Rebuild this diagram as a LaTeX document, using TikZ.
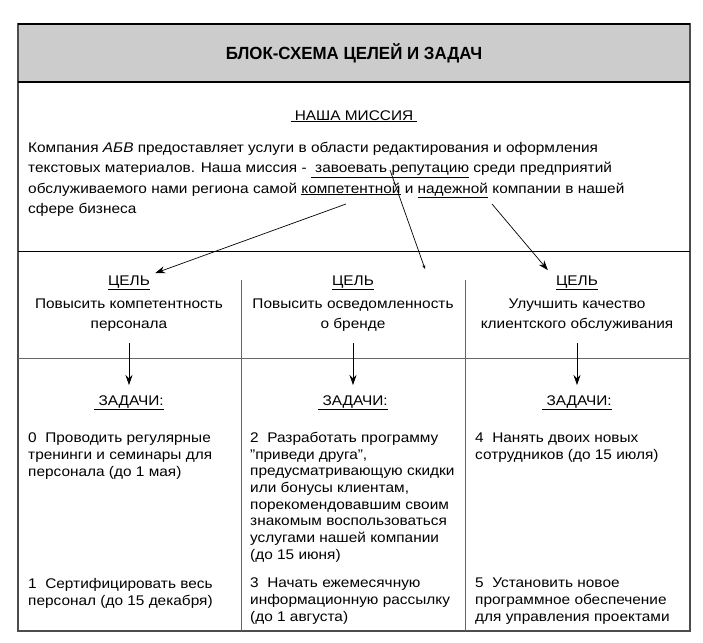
\documentclass[tikz,border=0pt]{standalone}
\usepackage{fontspec}
\setmainfont{Liberation Sans}[FakeStretch=1.1]
\newfontfamily\headfont{Liberation Sans}[FakeStretch=0.96]
\usetikzlibrary{arrows.meta}
\newcommand\txtsz{\fontsize{14}{16.7}\selectfont}
\newcommand\missz{\fontsize{14}{20.3}\selectfont}
\newcommand\goalsz{\fontsize{14}{19.5}\selectfont}
\newcommand\ttlsz{\headfont\bfseries\fontsize{17.6}{18}\selectfont}

\begin{document}
\begin{tikzpicture}[x=1pt,y=-1pt,
  frame/.style={draw=black!70,line width=1.3pt},
  rule/.style={draw=black!60,line width=0.9pt},
  lbl/.style={inner sep=0pt,font=\txtsz},
  blk/.style={inner sep=0pt,font=\txtsz,align=left,anchor=north west},
  arr/.style={-{Stealth[length=10pt,width=7pt]},line width=0.7pt}]

\useasboundingbox (0,0) rectangle (703,642);
% frame and header
\fill[black!20] (18,24) rectangle (690,82);
\draw[frame] (18,24) rectangle (690,631);
\draw[line width=1.3pt] (18,24) -- (690,24);
\draw[line width=1.3pt] (18,82) -- (690,82);
\draw[line width=1pt] (18,251) -- (690,251);
\draw[rule] (18,358) -- (690,358);
\draw[rule] (241,280) -- (241,631);
\draw[rule] (465,280) -- (465,631);

\node[inner sep=0pt] (title) at (354,53) {\ttlsz БЛОК-СХЕМА ЦЕЛЕЙ И ЗАДАЧ};

% mission
\node[lbl,anchor=base] (mhead) at (354,120) {\underline{ НАША МИССИЯ }};
\node[blk,font=\missz] (mission) at (28,142) {Компания \textit{АБВ} предоставляет услуги в области редактирования и оформления\\
текстовых материалов. Наша миссия - \underline{ завоевать репутацию} среди предприятий\\
обслуживаемого нами региона самой \underline{компетентной} и \underline{надежной} компании в нашей\\
сфере бизнеса};
\coordinate (compet) at (346,204);
\coordinate (reput) at (390,170);
\coordinate (nadezh) at (492,204);
\coordinate (free) at (425,269);

% goals
\node[lbl,anchor=base] (cel1) at (129,285) {\underline{ЦЕЛЬ}};
\node[lbl,anchor=base] (cel2) at (353,285) {\underline{ЦЕЛЬ}};
\node[lbl,anchor=base] (cel3) at (577,285) {\underline{ЦЕЛЬ}};
\node[lbl,font=\goalsz,align=center,anchor=north] (g1) at (129,299) {Повысить компетентность\\персонала};
\node[lbl,font=\goalsz,align=center,anchor=north] (g2) at (353,299) {Повысить осведомленность\\о бренде};
\node[lbl,font=\goalsz,align=center,anchor=north] (g3) at (577,299) {Улучшить качество\\клиентского обслуживания};

\draw[arr] (compet) -- ([shift={(5,-2)}]cel1.north east);
\draw[-{Stealth[length=4pt,width=3pt]},line width=0.7pt] (reput) -- (free);
\draw[arr] (nadezh) -- ([shift={(-8,-5)}]cel3.north west);

% tasks
\node[lbl,anchor=base] (z1) at (129,405) {\underline{ ЗАДАЧИ:}};
\node[lbl,anchor=base] (z2) at (353,405) {\underline{ ЗАДАЧИ:}};
\node[lbl,anchor=base] (z3) at (577,405) {\underline{ ЗАДАЧИ:}};
\draw[arr,shorten <=12pt,shorten >=10pt] (g1.south) -- (z1.north);
\draw[arr,shorten <=12pt,shorten >=10pt] (g2.south) -- (z2.north);
\draw[arr,shorten <=12pt,shorten >=10pt] (g3.south) -- (z3.north);

\node[blk] (t0) at (28,433) {0\ \ Проводить регулярные\\тренинги и семинары для\\персонала (до 1 мая)};
\node[blk] (t1) at (28,578) {1\ \ Сертифицировать весь\\персонал (до 15 декабря)};
\node[blk] (t2) at (250,432) {2\ \ Разработать программу\\"приведи друга",\\предусматривающую скидки\\или бонусы клиентам,\\порекомендовавшим своим\\знакомым воспользоваться\\услугами нашей компании\\(до 15 июня)};
\node[blk] (t3) at (250,578) {3\ \ Начать ежемесячную\\информационную рассылку\\(до 1 августа)};
\node[blk] (t4) at (475,433) {4\ \ Нанять двоих новых\\сотрудников (до 15 июля)};
\node[blk] (t5) at (475,578) {5\ \ Установить новое\\программное обеспечение\\для управления проектами};
\end{tikzpicture}
\end{document}
